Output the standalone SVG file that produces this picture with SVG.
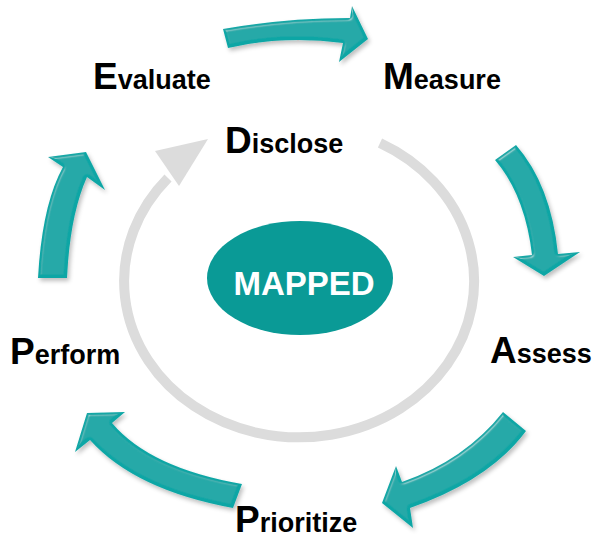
<svg xmlns="http://www.w3.org/2000/svg" width="593" height="539" viewBox="0 0 593 539">
  <defs>
    <style>
      .lbl { font-family: "Liberation Sans", Arial, sans-serif; font-weight: bold; fill: #000; font-size: 27px; }
      .cap { font-size: 37px; }
      .hub-text { font-family: "Liberation Sans", Arial, sans-serif; font-weight: bold; fill: #fff; font-size: 33px; }
      .step { fill: #10a6a5; filter: url(#bevel); }
      .ring { fill: none; stroke: #dcdcdc; stroke-width: 10; }
      .ring-head { fill: #dcdcdc; }
    </style>
    <!-- soft bevel with a faint drop shadow for the teal block arrows -->
    <filter id="bevel" x="-20%" y="-20%" width="140%" height="140%">
      <feGaussianBlur in="SourceAlpha" stdDeviation="1.6" result="blur"/>
      <feSpecularLighting in="blur" surfaceScale="3" specularConstant="0.6" specularExponent="28" lighting-color="#ffffff" result="spec">
        <feDistantLight azimuth="235" elevation="40"/>
      </feSpecularLighting>
      <feComposite in="spec" in2="SourceAlpha" operator="in" result="specIn"/>
      <feComposite in="SourceGraphic" in2="specIn" operator="arithmetic" k1="0" k2="1" k3="0.4" k4="0" result="lit"/>
      <feOffset in="SourceAlpha" dx="2" dy="3" result="off"/>
      <feGaussianBlur in="off" stdDeviation="2" result="shadowBlur"/>
      <feFlood flood-color="#000" flood-opacity="0.25"/>
      <feComposite in2="shadowBlur" operator="in" result="shadow"/>
      <feMerge>
        <feMergeNode in="shadow"/>
        <feMergeNode in="lit"/>
      </feMerge>
    </filter>
  </defs>

  <rect width="593" height="539" fill="#ffffff"/>

  <g id="connectors">
    <!-- inner grey cycle -->
    <path class="ring" d="M 380 143 A 175 156 0 1 1 168 178"/>
    <polygon class="ring-head" points="155,151 208,139 179,186"/>

    <!-- Evaluate -> Measure -->
    <path class="step" d="M 223 29 Q 285 18 350 18 L 352 6 L 368 39 L 339 62 L 343 43 Q 284 35 228 48 Z"/>
    <!-- Measure -> Assess -->
    <path class="step" d="M 495 160 Q 525 195 532 255 L 513 257 L 544 276 L 580 252 L 558 254 Q 551 185 516 145 Z"/>
    <!-- Assess -> Prioritize -->
    <path class="step" d="M 503 412 Q 465 460 402 482 L 396 466 L 382 503 L 413 528 L 410 508 Q 490 480 526 431 Z"/>
    <!-- Prioritize -> Perform -->
    <path class="step" d="M 242 484 Q 150 468 112 423 L 125 412 L 87 413 L 75 452 L 90 440 Q 135 490 233 508 Z"/>
    <!-- Perform -> Evaluate -->
    <path class="step" d="M 38 278 Q 42 205 63 167 L 48 157 L 86 152 L 105 190 L 87 177 Q 70 215 67 278 Z"/>
  </g>

  <g id="hub">
    <ellipse cx="300" cy="278" rx="93" ry="57" fill="#0a9a96"/>
    <text class="hub-text" x="304" y="295" text-anchor="middle">MAPPED</text>
  </g>

  <g id="evaluate">
    <text class="lbl" x="93" y="89"><tspan class="cap">E</tspan>valuate</text>
  </g>
  <g id="measure">
    <text class="lbl" x="383" y="89"><tspan class="cap">M</tspan>easure</text>
  </g>
  <g id="disclose">
    <text class="lbl" x="225" y="153"><tspan class="cap">D</tspan>isclose</text>
  </g>
  <g id="assess">
    <text class="lbl" x="490" y="363"><tspan class="cap">A</tspan>ssess</text>
  </g>
  <g id="prioritize">
    <text class="lbl" x="235" y="532"><tspan class="cap">P</tspan>rioritize</text>
  </g>
  <g id="perform">
    <text class="lbl" x="10" y="364"><tspan class="cap">P</tspan>erform</text>
  </g>
</svg>
